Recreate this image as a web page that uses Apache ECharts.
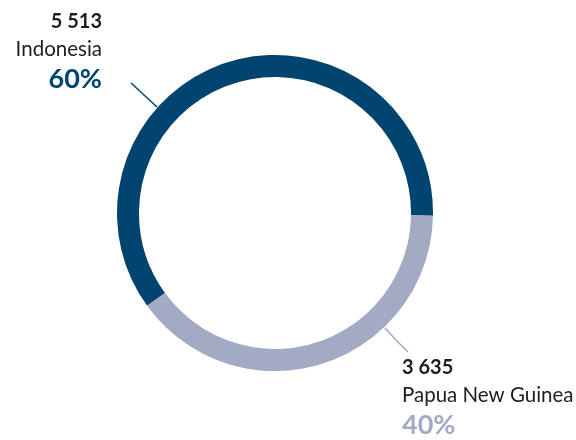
<!DOCTYPE html>
<html>
<head>
<meta charset="utf-8">
<script src="https://cdn.jsdelivr.net/npm/echarts@6/dist/echarts.min.js"></script>
<style>
  html, body { margin: 0; padding: 0; background: #ffffff; }
  #chart { width: 576px; height: 440px; }
</style>
</head>
<body>
<div id="chart"></div>
<script>
var countries = ['Indonesia', 'Papua New Guinea']
var values = [5513, 3635]
var colors = ['#00446f', '#a3aac4']

// label anchor + leader line per slice
var labelPos = [
  { x: 102, y: 8, align: 'right', line: [[157, 107], [144, 95], [131, 83]] },
  { x: 402, y: 354, align: 'left', line: [[385, 328], [396, 340], [408, 352]] }
]

function fmt(n) {
  return String(n).replace(/\B(?=(\d{3})+(?!\d))/g, ' ')
}

var chart = echarts.init(document.getElementById('chart'))

var data = []
for (var i = 0; i < countries.length; i++) {
  data.push({
    name: countries[i],
    value: values[i],
    itemStyle: { color: colors[i] },
    label: {
      rich: {
        p: { fontFamily: 'Lato', fontSize: 27, fontWeight: 'bold', color: colors[i], lineHeight: 32 }
      }
    },
    labelLine: { lineStyle: { color: colors[i], width: 1.5 } }
  })
}

chart.setOption({
  animation: false,
  series: [
    {
      type: 'pie',
      center: [275, 213],
      radius: [136, 158],
      startAngle: 216,
      clockwise: true,
      silent: true,
      label: {
        show: true,
        formatter: function (p) {
          return '{v|' + fmt(p.value) + '}\n{n|' + p.name + '}\n{p|' + Math.round(p.percent) + '%}'
        },
        rich: {
          v: { fontFamily: 'Lato', fontSize: 20, fontWeight: 'bold', color: '#1e1e1e', lineHeight: 27 },
          n: { fontFamily: 'Lato', fontSize: 20.5, color: '#1e1e1e', lineHeight: 28 }
        }
      },
      labelLine: { show: true },
      labelLayout: function (params) {
        var lp = labelPos[params.dataIndex]
        return {
          x: lp.x,
          y: lp.y,
          align: lp.align,
          verticalAlign: 'top',
          labelLinePoints: lp.line
        }
      },
      data: data
    }
  ]
})
</script>
</body>
</html>
